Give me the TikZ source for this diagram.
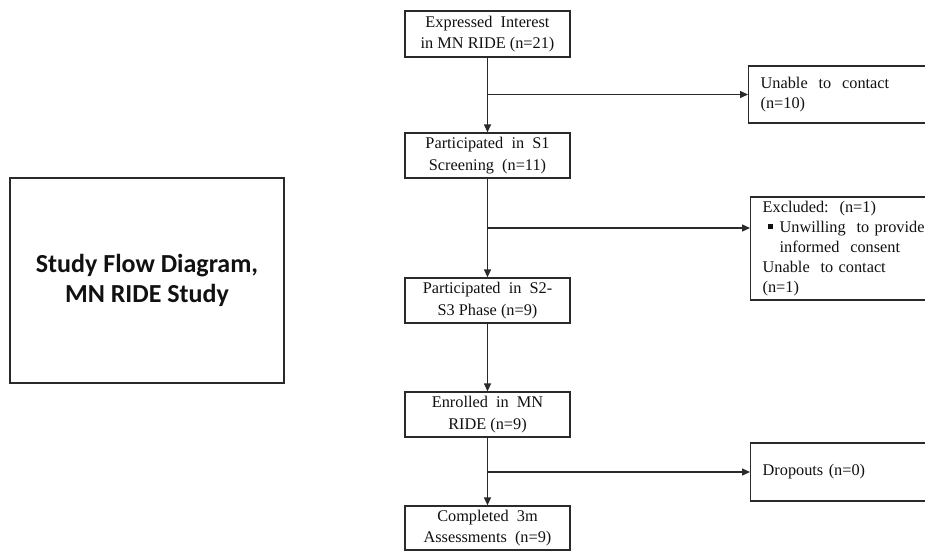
\documentclass[tikz,border=0pt]{standalone}
\usepackage{fontspec}
\setmainfont{Liberation Serif}
\newfontfamily\titlefont{Carlito}
\usetikzlibrary{arrows.meta}
\definecolor{linec}{HTML}{2A2A2A}
\definecolor{textc}{HTML}{111111}
\tikzset{
  mainbox/.style={draw=linec, line width=1.3pt, minimum width=165pt, minimum height=46pt,
    inner sep=0pt, align=center, text=textc, font=\fontsize{16.3}{21.5}\selectfont},
  sidebox/.style={draw=linec, line width=1.3pt, minimum width=187pt, inner xsep=12pt, inner ysep=0pt,
    align=left, anchor=west, text=textc, font=\fontsize{16.3}{20}\selectfont, text width=163pt},
  flow/.style={draw=linec, line width=1.3pt, -{Triangle[length=8pt,width=7pt]}},
  plain/.style={draw=linec, line width=1.3pt}
}
\begin{document}
\begin{tikzpicture}[x=1pt,y=-1pt]
\useasboundingbox (0,0) rectangle (925,550);
\clip (0,0) rectangle (925,550);
\fill[white] (0,0) rectangle (925,550);
% title box
\node[draw=linec, line width=1.3pt, minimum width=274pt, minimum height=205pt, align=center,
  font=\titlefont\bfseries\fontsize{26}{30}\selectfont, text=textc] (title) at (147,280.5)
  {Study Flow Diagram,\\MN RIDE Study};
% main column
\node[mainbox] (b1) at (487.5,34) {Expressed\ \ Interest\\in MN RIDE\ (n=21)};
\node[mainbox, minimum height=45pt] (b2) at (487.5,155.5) {Participated\ \ in\ \ S1\\Screening\ \ (n=11)};
\node[mainbox, minimum height=45pt] (b3) at (487.5,300.5) {Participated\ \ in\ \ S2-\\S3 Phase (n=9)};
\node[mainbox, minimum height=45pt] (b4) at (487.5,414.5) {Enrolled\ \ in\ \ MN\\RIDE (n=9)};
\node[mainbox, minimum height=44pt] (b5) at (487.5,528) {Completed\ \ 3m\\Assessments\ \ (n=9)};
% side boxes
\node[sidebox, minimum height=57pt] (r1) at (748,94.5) {Unable\ \ to\ \ contact\\(n=10)};
\node[sidebox, minimum height=103pt] (r2) at (750,248.5) {Excluded:\ \ (n=1)\\
\hspace*{5pt}\rule[3pt]{5pt}{5pt}\hspace{7pt}Unwilling\ \ to provide\\
\hspace*{17pt}informed\ \ consent\\
Unable\ \ to contact\\(n=1)};
\node[sidebox, minimum height=58pt] (r3) at (750,472) {Dropouts (n=0)};
% connectors
\coordinate (j1) at (b1.south |- r1.west);
\coordinate (j2) at (487.5,228);
\coordinate (j3) at (b4.south |- r3.west);
\draw[flow] (b1.south) -- (b2.north);
\draw[flow] (j1) -- (r1.west);
\draw[flow] (b2.south) -- (b3.north);
\draw[flow] (j2) -- (r2.west |- j2);
\draw[flow] (b3.south) -- (b4.north);
\draw[flow] (b4.south) -- (b5.north);
\draw[flow] (j3) -- (r3.west);
\end{tikzpicture}
\end{document}
